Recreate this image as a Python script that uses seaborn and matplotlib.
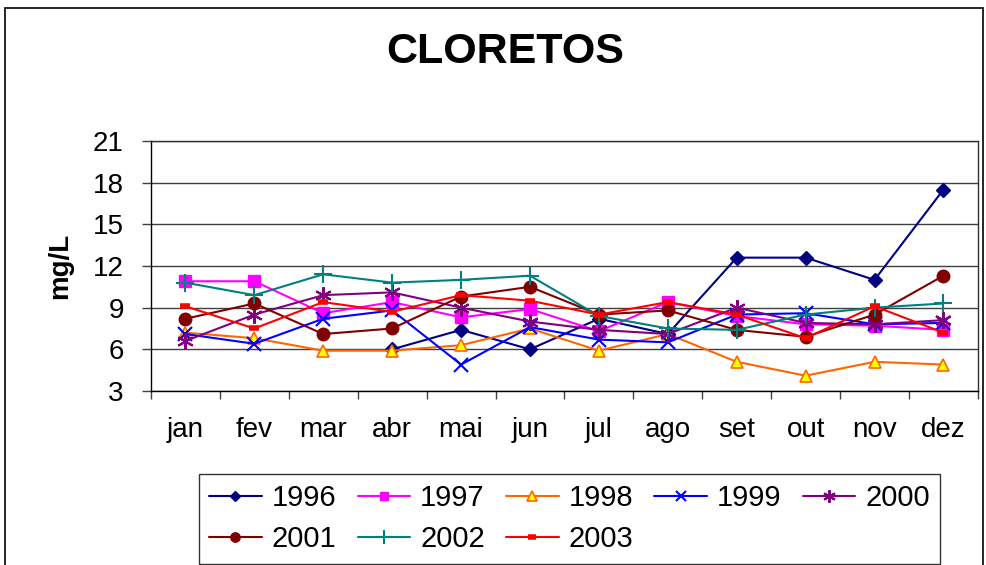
"""Monthly chloride (cloretos) concentration by year, 1996-2003."""

import numpy as np
import matplotlib
matplotlib.use("Agg")
import matplotlib.pyplot as plt
from matplotlib.patches import Rectangle
from matplotlib.ticker import FixedLocator, NullFormatter
import seaborn as sns

months = ["jan", "fev", "mar", "abr", "mai", "jun",
          "jul", "ago", "set", "out", "nov", "dez"]

y1996 = [np.nan, np.nan, np.nan, 6.0, 7.4, 6.0, 8.2, 7.1, 12.6, 12.6, 11.0, 17.5]
y1997 = [10.9, 10.9, 8.6, 9.4, 8.3, 8.9, 7.3, 9.4, 8.4, 7.8, 7.7, 7.4]
y1998 = [7.2, 6.8, 5.9, 5.9, 6.3, 7.5, 5.9, 7.1, 5.1, 4.1, 5.1, 4.9]
y1999 = [7.1, 6.4, 8.2, 8.8, 4.9, 7.6, 6.7, 6.5, 8.5, 8.6, 7.8, 7.9]
y2000 = [6.6, 8.5, 9.9, 10.1, 9.0, 8.0, 7.4, 7.1, 9.0, 7.9, 7.8, 8.1]
y2001 = [8.2, 9.3, 7.1, 7.5, 9.8, 10.5, 8.5, 8.8, 7.4, 6.9, 8.5, 11.3]
y2002 = [10.8, 9.9, 11.4, 10.8, 11.0, 11.3, 8.4, 7.5, 7.4, 8.5, 9.0, 9.3]
y2003 = [9.1, 7.5, 9.4, 8.7, 9.9, 9.5, 8.5, 9.4, 8.5, 6.8, 9.1, 7.2]

years = ["1996", "1997", "1998", "1999", "2000", "2001", "2002", "2003"]
series = [y1996, y1997, y1998, y1999, y2000, y2001, y2002, y2003]

# Excel-like styles per year: color, marker, size, face color, edge width
styles = [
    ("#000080", "D", 7, "#000080", 1.0),
    ("#FF00FF", "s", 8, "#FF00FF", 1.0),
    ("#FF6600", "^", 9, "#FFFF00", 1.2),
    ("#0000FF", "x", 10, "#0000FF", 1.5),
    ("#800080", (6, 2, 0), 12, "#800080", 1.5),
    ("#800000", "o", 9, "#800000", 1.0),
    ("#008080", "+", 13, "#008080", 1.5),
    ("#FF0000", "_", 7, "#FF0000", 4.0),
]

sns.set_style("white")
plt.rcParams["font.family"] = ["Liberation Sans", "DejaVu Sans"]
plt.rcParams.update({"text.color": "black", "axes.labelcolor": "black",
                     "xtick.color": "black", "ytick.color": "black"})

fig = plt.figure(figsize=(9.86, 5.65), dpi=100)
ax = fig.add_axes([0.1531, 0.308, 0.8387, 0.4425])

for year, vals, (c, m, ms, fc, mew) in zip(years, series, styles):
    sns.lineplot(x=months, y=vals, ax=ax, sort=False, color=c, marker=m,
                 markersize=ms, markerfacecolor=fc, markeredgecolor=c,
                 markeredgewidth=mew, linewidth=1.5, label=year)

ax.set_ylim(3, 21)
ax.set_yticks(np.arange(3, 22, 3))
ax.set_xlim(-0.5, 11.5)
ax.set_xticks(range(12))
ax.set_xticklabels(months)
ax.xaxis.set_minor_locator(FixedLocator(np.arange(-0.5, 12, 1)))
ax.xaxis.set_minor_formatter(NullFormatter())
ax.tick_params(axis="x", which="major", length=0, pad=19, labelsize=20,
               labelcolor="black")
ax.tick_params(axis="x", which="minor", length=6, width=1, color="#404040",
               direction="out", bottom=True)
ax.tick_params(axis="y", which="major", length=6.5, width=1, color="#404040",
               direction="out", left=True, labelsize=20, pad=13,
               labelcolor="black")
ax.grid(axis="y", color="#404040", lw=1)
ax.set_axisbelow(True)
for sp in ax.spines.values():
    sp.set_color("#303030")
    sp.set_linewidth(1)
ax.spines["left"].set_color("black")
ax.spines["bottom"].set_color("black")

ax.set_xlabel("")
ax.set_ylabel("mg/L", fontsize=20, fontweight="bold", labelpad=14,
              color="black")
fig.text(0.512, 0.908, "CLORETOS", ha="center", va="center",
         fontsize=31, fontweight="bold", color="black")

# legend filled row by row, like the original spreadsheet chart
ax.get_legend().remove()
handles, labels = ax.get_legend_handles_labels()
order = [0, 5, 1, 6, 2, 7, 3, 4]
leg = fig.legend([handles[i] for i in order], [labels[i] for i in order],
                 ncol=5, loc="upper left",
                 bbox_to_anchor=(199 / 986, 1 - 474 / 565),
                 fontsize=21, frameon=True, fancybox=False, edgecolor="black",
                 handlelength=1.8, handletextpad=0.35, columnspacing=0.72,
                 borderpad=0.35, labelspacing=0.45, borderaxespad=0,
                 markerscale=0.75)
for t in leg.get_texts():
    t.set_color("black")

# outer chart border
fig.patches.append(Rectangle((5 / 986, -0.02), 978 / 986, 0.9858 + 0.02,
                             transform=fig.transFigure, fill=False,
                             edgecolor="black", lw=1.2, clip_on=False))

fig.savefig("out.png", dpi=100)
